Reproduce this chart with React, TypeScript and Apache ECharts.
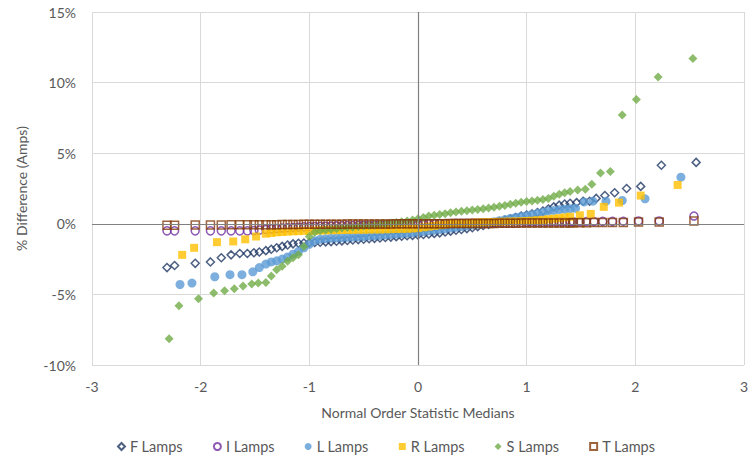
import React, { useEffect, useRef } from "react";
import * as echarts from "echarts";

const X_TICKS = [-3, -2, -1, 0, 1, 2, 3];
const Y_TICKS = [-10, -5, 0, 5, 10, 15];
const SERIES_NAMES = ["F Lamps", "I Lamps", "L Lamps", "R Lamps", "S Lamps", "T Lamps"];

const F_LAMPS = [
  [-2.31, -3.1], [-2.24, -2.95], [-2.05, -2.8], [-1.91, -2.7], [-1.81, -2.4], [-1.72, -2.2], [-1.64, -2.1], [-1.57, -2.1], [-1.51, -2.05], [-1.46, -2.0],
  [-1.40, -1.9], [-1.35, -1.8], [-1.30, -1.7], [-1.25, -1.6], [-1.20, -1.5], [-1.15, -1.42], [-1.10, -1.38], [-1.05, -1.36], [-1.00, -1.34], [-0.95, -1.32],
  [-0.90, -1.3], [-0.85, -1.28], [-0.80, -1.26], [-0.75, -1.24], [-0.70, -1.21], [-0.65, -1.18], [-0.60, -1.15], [-0.55, -1.12], [-0.50, -1.09], [-0.45, -1.06],
  [-0.40, -1.03], [-0.35, -1.0], [-0.30, -0.97], [-0.25, -0.94], [-0.20, -0.91], [-0.15, -0.88], [-0.10, -0.85], [-0.05, -0.82], [0.00, -0.79], [0.05, -0.76],
  [0.10, -0.72], [0.15, -0.68], [0.20, -0.64], [0.25, -0.58], [0.30, -0.52], [0.35, -0.46], [0.40, -0.4], [0.45, -0.34], [0.50, -0.28], [0.55, -0.2],
  [0.60, -0.12], [0.65, -0.04], [0.70, 0.05], [0.75, 0.15], [0.80, 0.25], [0.85, 0.35], [0.90, 0.45], [0.95, 0.55], [1.00, 0.62], [1.05, 0.7],
  [1.10, 0.8], [1.15, 0.9], [1.20, 1.05], [1.25, 1.2], [1.30, 1.32], [1.35, 1.4], [1.40, 1.45],
  [1.46, 1.5], [1.52, 1.6], [1.58, 1.6], [1.64, 1.8], [1.72, 2.0], [1.81, 2.2], [1.92, 2.5], [2.05, 2.65], [2.24, 4.15], [2.56, 4.35],
];

const I_LAMPS = [
  [-2.31, -0.5], [-2.24, -0.5], [-2.05, -0.5], [-1.91, -0.5], [-1.81, -0.5], [-1.72, -0.5], [-1.64, -0.5], [-1.57, -0.5], [-1.51, -0.48], [-1.46, -0.45],
  [-1.40, -0.4], [-1.35, -0.36], [-1.30, -0.33], [-1.25, -0.3], [-1.20, -0.28], [-1.15, -0.26], [-1.10, -0.24], [-1.05, -0.22], [-1.00, -0.2], [-0.95, -0.19],
  [-0.90, -0.18], [-0.85, -0.17], [-0.80, -0.16], [-0.75, -0.15], [-0.70, -0.14], [-0.65, -0.13], [-0.60, -0.12], [-0.55, -0.11], [-0.50, -0.1], [-0.45, -0.1],
  [-0.40, -0.09], [-0.35, -0.08], [-0.30, -0.08], [-0.25, -0.07], [-0.20, -0.06], [-0.15, -0.05], [-0.10, -0.04], [-0.05, -0.03], [0.00, -0.02], [0.05, -0.01],
  [0.10, 0.0], [0.15, 0.0], [0.20, 0.01], [0.25, 0.02], [0.30, 0.02], [0.35, 0.03], [0.40, 0.04], [0.45, 0.04], [0.50, 0.05], [0.55, 0.05],
  [0.60, 0.06], [0.65, 0.06], [0.70, 0.07], [0.75, 0.08], [0.80, 0.08], [0.85, 0.09], [0.90, 0.1], [0.95, 0.1], [1.00, 0.11], [1.05, 0.11],
  [1.10, 0.12], [1.15, 0.12], [1.20, 0.13], [1.25, 0.13], [1.30, 0.14], [1.35, 0.14], [1.40, 0.15],
  [1.43, 0.15], [1.49, 0.15], [1.55, 0.16], [1.62, 0.16], [1.70, 0.17], [1.79, 0.17], [1.89, 0.18], [2.03, 0.2], [2.22, 0.2], [2.54, 0.55],
];

const L_LAMPS = [
  [-2.19, -4.3], [-2.08, -4.2], [-1.87, -3.75], [-1.73, -3.6], [-1.62, -3.6], [-1.52, -3.4], [-1.46, -3.1],
  [-1.40, -2.85], [-1.35, -2.7], [-1.30, -2.62], [-1.25, -2.5], [-1.20, -2.35], [-1.15, -2.15], [-1.10, -1.95], [-1.05, -1.7], [-1.00, -1.45], [-0.95, -1.2],
  [-0.90, -1.1], [-0.85, -1.05], [-0.80, -1.02], [-0.75, -1.0], [-0.70, -0.98], [-0.65, -0.96], [-0.60, -0.94], [-0.55, -0.92], [-0.50, -0.9], [-0.45, -0.87],
  [-0.40, -0.85], [-0.35, -0.82], [-0.30, -0.79], [-0.25, -0.76], [-0.20, -0.73], [-0.15, -0.7], [-0.10, -0.67], [-0.05, -0.64], [0.00, -0.6], [0.05, -0.55],
  [0.10, -0.5], [0.15, -0.45], [0.20, -0.4], [0.25, -0.35], [0.30, -0.3], [0.35, -0.25], [0.40, -0.2], [0.45, -0.14], [0.50, -0.08], [0.55, -0.02],
  [0.60, 0.03], [0.65, 0.08], [0.70, 0.15], [0.75, 0.22], [0.80, 0.3], [0.85, 0.38], [0.90, 0.46], [0.95, 0.52], [1.00, 0.58], [1.05, 0.66],
  [1.10, 0.74], [1.15, 0.82], [1.20, 0.9], [1.25, 0.95], [1.30, 1.0], [1.35, 1.03], [1.40, 1.07],
  [1.45, 1.1], [1.53, 1.55], [1.61, 1.6], [1.73, 1.6], [1.88, 1.65], [2.09, 1.77], [2.42, 3.3],
];

const R_LAMPS = [
  [-2.17, -2.2], [-2.06, -1.7], [-1.85, -1.3], [-1.70, -1.25], [-1.59, -1.1], [-1.49, -0.9],
  [-1.40, -0.7], [-1.35, -0.65], [-1.30, -0.6], [-1.25, -0.58], [-1.20, -0.55], [-1.15, -0.53], [-1.10, -0.52], [-1.05, -0.5], [-1.00, -0.5], [-0.95, -0.48],
  [-0.90, -0.47], [-0.85, -0.46], [-0.80, -0.45], [-0.75, -0.45], [-0.70, -0.44], [-0.65, -0.43], [-0.60, -0.43], [-0.55, -0.42], [-0.50, -0.42], [-0.45, -0.41],
  [-0.40, -0.4], [-0.35, -0.4], [-0.30, -0.39], [-0.25, -0.38], [-0.20, -0.37], [-0.15, -0.36], [-0.10, -0.35], [-0.05, -0.33], [0.00, -0.3], [0.05, -0.25],
  [0.10, -0.2], [0.15, -0.15], [0.20, -0.1], [0.25, -0.05], [0.30, 0.0], [0.35, 0.02], [0.40, 0.04], [0.45, 0.06], [0.50, 0.08], [0.55, 0.1],
  [0.60, 0.11], [0.65, 0.12], [0.70, 0.13], [0.75, 0.14], [0.80, 0.15], [0.85, 0.16], [0.90, 0.17], [0.95, 0.18], [1.00, 0.2], [1.05, 0.22],
  [1.10, 0.25], [1.15, 0.28], [1.20, 0.32], [1.25, 0.36], [1.30, 0.4], [1.35, 0.45], [1.40, 0.5],
  [1.49, 0.6], [1.59, 0.7], [1.71, 1.2], [1.85, 1.5], [2.05, 2.0], [2.39, 2.75],
];

const S_LAMPS = [
  [-2.29, -8.14], [-2.20, -5.8], [-2.02, -5.3], [-1.88, -4.9], [-1.78, -4.75], [-1.69, -4.6], [-1.61, -4.4], [-1.53, -4.27], [-1.47, -4.2],
  [-1.40, -4.15], [-1.35, -3.7], [-1.30, -3.25], [-1.25, -3.0], [-1.20, -2.65], [-1.15, -2.4], [-1.10, -2.2], [-1.05, -1.6], [-1.00, -0.9], [-0.95, -0.6],
  [-0.90, -0.5], [-0.85, -0.44], [-0.80, -0.4], [-0.75, -0.35], [-0.70, -0.3], [-0.65, -0.27], [-0.60, -0.24], [-0.55, -0.2], [-0.50, -0.16], [-0.45, -0.12],
  [-0.40, -0.08], [-0.35, -0.04], [-0.30, 0.0], [-0.25, 0.05], [-0.20, 0.1], [-0.15, 0.15], [-0.10, 0.2], [-0.05, 0.27], [0.00, 0.35], [0.05, 0.45],
  [0.10, 0.55], [0.15, 0.6], [0.20, 0.66], [0.25, 0.72], [0.30, 0.78], [0.35, 0.83], [0.40, 0.88], [0.45, 0.93], [0.50, 0.97], [0.55, 1.02],
  [0.60, 1.07], [0.65, 1.12], [0.70, 1.18], [0.75, 1.24], [0.80, 1.3], [0.85, 1.38], [0.90, 1.45], [0.95, 1.52], [1.00, 1.58], [1.05, 1.62],
  [1.10, 1.66], [1.15, 1.72], [1.20, 1.8], [1.25, 1.95], [1.30, 2.1], [1.35, 2.2], [1.40, 2.28],
  [1.47, 2.4], [1.54, 2.45], [1.60, 2.8], [1.68, 3.6], [1.77, 3.7], [1.88, 7.7], [2.01, 8.8], [2.21, 10.4], [2.53, 11.7],
];

const T_LAMPS = [
  [-2.31, -0.1], [-2.24, -0.1], [-2.05, -0.08], [-1.91, -0.08], [-1.81, -0.08], [-1.72, -0.07], [-1.64, -0.07], [-1.57, -0.07], [-1.51, -0.07], [-1.46, -0.06],
  [-1.40, -0.06], [-1.35, -0.06], [-1.30, -0.06], [-1.25, -0.05], [-1.20, -0.05], [-1.15, -0.05], [-1.10, -0.05], [-1.05, -0.04], [-1.00, -0.04], [-0.95, -0.04],
  [-0.90, -0.04], [-0.85, -0.03], [-0.80, -0.03], [-0.75, -0.03], [-0.70, -0.03], [-0.65, -0.02], [-0.60, -0.02], [-0.55, -0.02], [-0.50, -0.02], [-0.45, -0.02],
  [-0.40, -0.01], [-0.35, -0.01], [-0.30, -0.01], [-0.25, -0.01], [-0.20, 0.0], [-0.15, 0.0], [-0.10, 0.0], [-0.05, 0.0], [0.00, 0.0], [0.05, 0.0],
  [0.10, 0.01], [0.15, 0.01], [0.20, 0.01], [0.25, 0.01], [0.30, 0.02], [0.35, 0.02], [0.40, 0.02], [0.45, 0.02], [0.50, 0.02], [0.55, 0.03],
  [0.60, 0.03], [0.65, 0.03], [0.70, 0.03], [0.75, 0.04], [0.80, 0.04], [0.85, 0.04], [0.90, 0.04], [0.95, 0.05], [1.00, 0.05], [1.05, 0.05],
  [1.10, 0.05], [1.15, 0.05], [1.20, 0.06], [1.25, 0.06], [1.30, 0.06], [1.35, 0.06], [1.40, 0.06],
  [1.43, 0.07], [1.49, 0.08], [1.55, 0.08], [1.62, 0.09], [1.70, 0.1], [1.79, 0.1], [1.89, 0.1], [2.03, 0.12], [2.22, 0.12], [2.54, 0.2],
];

const FONT = "Lato, 'Liberation Sans', sans-serif";
const TEXT_COLOR = "#595959";

export default function App() {
  const ref = useRef<HTMLDivElement>(null);

  useEffect(() => {
    if (!ref.current) return;
    const chart = echarts.init(ref.current, undefined, { renderer: "svg" });

    const hollow = (color: string) => ({ color: "rgba(255,255,255,0)", borderColor: color, borderWidth: 1.5 });
    const filled = (color: string) => ({ color, borderWidth: 0 });

    const seriesDefs = [
      { name: SERIES_NAMES[0], data: F_LAMPS, symbol: "diamond", symbolSize: 8, itemStyle: hollow("#203864") },
      { name: SERIES_NAMES[1], data: I_LAMPS, symbol: "circle", symbolSize: 8, itemStyle: hollow("#7030A0") },
      { name: SERIES_NAMES[2], data: L_LAMPS, symbol: "circle", symbolSize: 9, itemStyle: filled("#5B9BD5") },
      { name: SERIES_NAMES[3], data: R_LAMPS, symbol: "rect", symbolSize: 8, itemStyle: filled("#FFC000") },
      { name: SERIES_NAMES[4], data: S_LAMPS, symbol: "diamond", symbolSize: 9, itemStyle: filled("#70AD47") },
      { name: SERIES_NAMES[5], data: T_LAMPS, symbol: "rect", symbolSize: 8, itemStyle: hollow("#843C0C") },
    ];

    const series: any[] = seriesDefs.map((s, i) => ({
      type: "scatter",
      name: s.name,
      data: s.data,
      symbol: s.symbol,
      symbolSize: s.symbolSize,
      itemStyle: s.itemStyle,
      emphasis: { disabled: true },
      ...(i === 0
        ? {
            markLine: {
              silent: true,
              symbol: ["none", "none"],
              label: { show: false },
              lineStyle: { color: "#808080", type: "solid", width: 1.2 },
              data: [{ xAxis: 0 }, { yAxis: 0 }],
            },
          }
        : {}),
    }));

    chart.setOption({
      animation: false,
      backgroundColor: "#ffffff",
      grid: { left: 92, right: 3, top: 12, bottom: 95, containLabel: false },
      xAxis: {
        type: "value",
        min: X_TICKS[0],
        max: X_TICKS[X_TICKS.length - 1],
        interval: 1,
        name: "Normal Order Statistic Medians",
        nameLocation: "middle",
        nameGap: 40,
        nameTextStyle: { color: TEXT_COLOR, fontSize: 14, fontFamily: FONT },
        axisLine: { show: false },
        axisTick: { show: false },
        axisLabel: { color: TEXT_COLOR, fontSize: 14, fontFamily: FONT, margin: 14 },
        splitLine: { show: true, lineStyle: { color: "#D9D9D9", width: 1 } },
      },
      yAxis: {
        type: "value",
        min: Y_TICKS[0],
        max: Y_TICKS[Y_TICKS.length - 1],
        interval: 5,
        name: "% Difference (Amps)",
        nameLocation: "middle",
        nameGap: 64,
        nameTextStyle: { color: TEXT_COLOR, fontSize: 14, fontFamily: FONT },
        axisLine: { show: false },
        axisTick: { show: false },
        axisLabel: { color: TEXT_COLOR, fontSize: 14, fontFamily: FONT, margin: 16, formatter: (v: number) => `${v}%` },
        splitLine: { show: true, lineStyle: { color: "#D9D9D9", width: 1 } },
      },
      legend: {
        data: SERIES_NAMES,
        bottom: 1,
        left: 112,
        itemWidth: 7,
        itemHeight: 7,
        itemGap: 30,
        textStyle: { color: TEXT_COLOR, fontSize: 14.5, fontFamily: FONT },
      },
      series,
    });

    return () => chart.dispose();
  }, []);

  return <div ref={ref} style={{ position: "fixed", left: 0, top: 0, width: 751, height: 460 }} />;
}
